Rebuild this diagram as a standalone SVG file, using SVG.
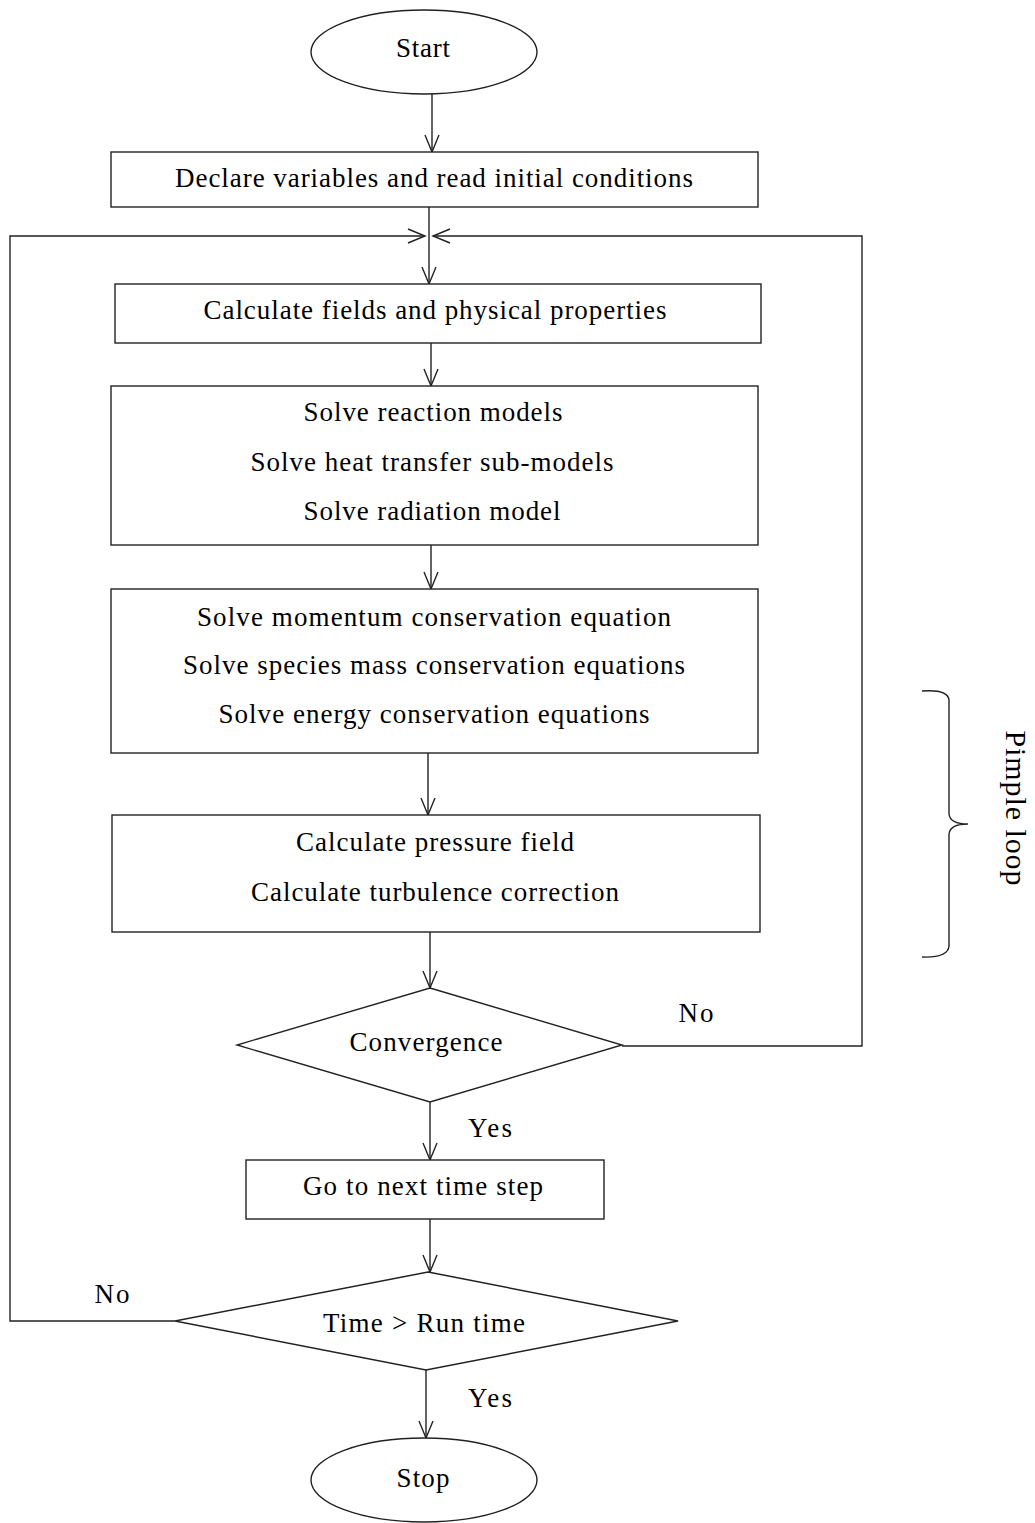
<svg xmlns="http://www.w3.org/2000/svg" width="1035" height="1523" viewBox="0 0 1035 1523">
<defs>
<marker id="arr" viewBox="0 0 20 16" refX="18" refY="8" markerWidth="20" markerHeight="16" markerUnits="userSpaceOnUse" orient="auto">
<path d="M1,1 L18,8 L1,15" fill="none" stroke="#222" stroke-width="1.4"/>
</marker>
</defs>
<style>
.fc-node{fill:#fff;stroke:#222;stroke-width:1.4}
.fc-conn{fill:none;stroke:#222;stroke-width:1.4}
.fc-txt{font-family:"Liberation Serif","Times New Roman",serif;font-size:27px;fill:#000;text-anchor:middle}
</style>
<rect width="1035" height="1523" fill="#fff"/>
<g id="connectors">
<line class="fc-conn" x1="432" y1="94" x2="432" y2="152" marker-end="url(#arr)"/>
<line class="fc-conn" x1="429" y1="207" x2="429" y2="284" marker-end="url(#arr)"/>
<line class="fc-conn" x1="431" y1="343" x2="431" y2="386" marker-end="url(#arr)"/>
<line class="fc-conn" x1="431" y1="545" x2="431" y2="589" marker-end="url(#arr)"/>
<line class="fc-conn" x1="428" y1="753" x2="428" y2="815" marker-end="url(#arr)"/>
<line class="fc-conn" x1="430" y1="932" x2="430" y2="988" marker-end="url(#arr)"/>
<line class="fc-conn" x1="430" y1="1102" x2="430" y2="1160" marker-end="url(#arr)"/>
<line class="fc-conn" x1="430" y1="1219" x2="430" y2="1272" marker-end="url(#arr)"/>
<line class="fc-conn" x1="426" y1="1370" x2="426" y2="1438" marker-end="url(#arr)"/>
<polyline class="fc-conn" points="622,1046 862,1046 862,236 433,236" marker-end="url(#arr)"/>
<polyline class="fc-conn" points="175,1321 10,1321 10,236 425,236" marker-end="url(#arr)"/>
<text class="fc-txt" x="696" y="1022" textLength="35">No</text>
<text class="fc-txt" x="490" y="1137" textLength="44">Yes</text>
<text class="fc-txt" x="112" y="1303" textLength="35">No</text>
<text class="fc-txt" x="490" y="1407" textLength="44">Yes</text>
</g>
<g id="start">
<ellipse class="fc-node" cx="424" cy="52" rx="113" ry="42"/>
<text class="fc-txt" x="423" y="57" textLength="54">Start</text>
</g>
<g id="declare">
<rect class="fc-node" x="111" y="152" width="647" height="55"/>
<text class="fc-txt" x="434" y="187" textLength="518">Declare variables and read initial conditions</text>
</g>
<g id="calc-fields">
<rect class="fc-node" x="115" y="284" width="646" height="59"/>
<text class="fc-txt" x="435" y="319" textLength="463">Calculate fields and physical properties</text>
</g>
<g id="solve-models">
<rect class="fc-node" x="111" y="386" width="647" height="159"/>
<text class="fc-txt" x="433" y="421" textLength="259">Solve reaction models</text>
<text class="fc-txt" x="432" y="471" textLength="363">Solve heat transfer sub-models</text>
<text class="fc-txt" x="432" y="520" textLength="257">Solve radiation model</text>
</g>
<g id="solve-equations">
<rect class="fc-node" x="111" y="589" width="647" height="164"/>
<text class="fc-txt" x="434" y="626" textLength="474">Solve momentum conservation equation</text>
<text class="fc-txt" x="434" y="674" textLength="502">Solve species mass conservation equations</text>
<text class="fc-txt" x="434" y="723" textLength="431">Solve energy conservation equations</text>
</g>
<g id="pressure">
<rect class="fc-node" x="112" y="815" width="648" height="117"/>
<text class="fc-txt" x="435" y="851" textLength="278">Calculate pressure field</text>
<text class="fc-txt" x="435" y="901" textLength="368">Calculate turbulence correction</text>
</g>
<g id="convergence">
<polygon class="fc-node" points="430,988 622,1045 430,1102 237,1045"/>
<text class="fc-txt" x="426" y="1051" textLength="153">Convergence</text>
</g>
<g id="next-step">
<rect class="fc-node" x="246" y="1160" width="358" height="59"/>
<text class="fc-txt" x="423" y="1195" textLength="240">Go to next time step</text>
</g>
<g id="time-check">
<polygon class="fc-node" points="428,1272 678,1321 426,1370 175,1321"/>
<text class="fc-txt" x="424" y="1332" textLength="202">Time &gt; Run time</text>
</g>
<g id="stop">
<ellipse class="fc-node" cx="424" cy="1480" rx="113" ry="42"/>
<text class="fc-txt" x="423" y="1487" textLength="53">Stop</text>
</g>
<g id="pimple-loop">
<path class="fc-conn" d="M922,691 Q948,689 949,700 L949,814 Q950,824 968,824 Q950,824 949,834 L949,946 Q948,958 922,957"/>
<text class="fc-txt" transform="translate(1006,808) rotate(90)" style="font-size:30px" textLength="155">Pimple loop</text>
</g>
</svg>
